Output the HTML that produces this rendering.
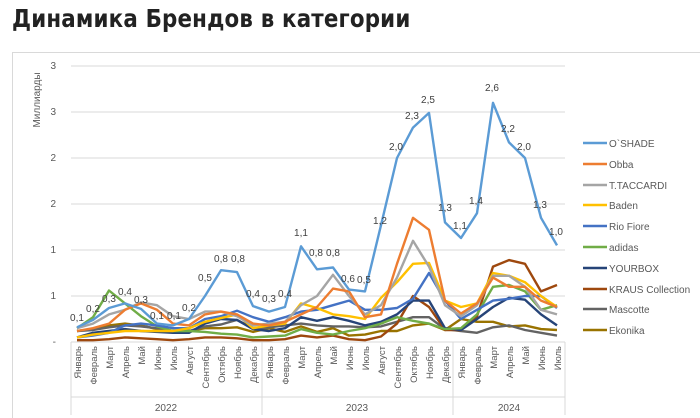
<!DOCTYPE html>
<html><head><meta charset="utf-8"><style>
body{margin:0;background:#fff;width:700px;height:418px;overflow:hidden;font-family:"Liberation Sans","DejaVu Sans",sans-serif}
h1{position:absolute;left:12px;top:4px;margin:0;font-size:25px;font-weight:bold;color:#222;letter-spacing:0.2px;font-family:"DejaVu Sans","Liberation Sans",sans-serif;transform:scaleX(0.855);transform-origin:left;white-space:nowrap}
svg{position:absolute;left:0;top:0}
</style></head><body>
<h1>Динамика Брендов в категории</h1>
<svg width="700" height="418" viewBox="0 0 700 418" font-family="Liberation Sans, DejaVu Sans, sans-serif">
<rect x="12.5" y="52.5" width="700" height="380" fill="#fff" stroke="#d9d9d9"/>
<g stroke="#d9d9d9" stroke-width="1">
<line x1="71" x2="565" y1="66" y2="66"/><line x1="71" x2="565" y1="112" y2="112"/>
<line x1="71" x2="565" y1="158" y2="158"/><line x1="71" x2="565" y1="204" y2="204"/>
<line x1="71" x2="565" y1="250" y2="250"/><line x1="71" x2="565" y1="296" y2="296"/>
<line x1="71" x2="565" y1="342" y2="342"/>
<line x1="71" x2="71" y1="342" y2="415"/><line x1="262" x2="262" y1="342" y2="415"/>
<line x1="453" x2="453" y1="342" y2="415"/><line x1="565" x2="565" y1="342" y2="415"/>
<line x1="71" x2="565" y1="397" y2="397"/>
</g>
<g fill="#595959" font-size="10" text-anchor="end">
<text x="56" y="69">3</text><text x="56" y="115">3</text><text x="56" y="161">2</text><text x="56" y="207">2</text><text x="56" y="253">1</text><text x="56" y="299">1</text><text x="56" y="345">-</text>
</g>
<text transform="translate(40,100) rotate(-90)" text-anchor="middle" fill="#595959" font-size="10">Миллиарды</text>
<g id="lines" fill="none" stroke-width="2.4" stroke-linejoin="round"></g>
<g fill="#404040" font-size="10" text-anchor="middle">
<text x="77" y="321">0,1</text><text x="93" y="312">0,2</text><text x="109" y="302">0,3</text><text x="125" y="295">0,4</text><text x="141" y="303">0,3</text><text x="157" y="319">0,1</text><text x="174" y="319">0,1</text><text x="189" y="311">0,2</text><text x="205" y="281">0,5</text><text x="221" y="262">0,8</text><text x="238" y="262">0,8</text><text x="253" y="297">0,4</text><text x="269" y="302">0,3</text><text x="285" y="297">0,4</text><text x="301" y="236">1,1</text><text x="316" y="256">0,8</text><text x="333" y="256">0,8</text><text x="348" y="282">0,6</text><text x="364" y="283">0,5</text><text x="380" y="224">1,2</text><text x="396" y="150">2,0</text><text x="412" y="119">2,3</text><text x="428" y="103">2,5</text><text x="445" y="211">1,3</text><text x="460" y="229">1,1</text><text x="476" y="204">1,4</text><text x="492" y="91">2,6</text><text x="508" y="132">2,2</text><text x="524" y="150">2,0</text><text x="540" y="208">1,3</text><text x="556" y="235">1,0</text>
</g>
<g fill="#595959" font-size="9.5" text-anchor="end">
<text transform="translate(81,346) rotate(-90)">Январь</text><text transform="translate(97,346) rotate(-90)">Февраль</text><text transform="translate(113,346) rotate(-90)">Март</text><text transform="translate(129,346) rotate(-90)">Апрель</text><text transform="translate(145,346) rotate(-90)">Май</text><text transform="translate(161,346) rotate(-90)">Июнь</text><text transform="translate(177,346) rotate(-90)">Июль</text><text transform="translate(193,346) rotate(-90)">Август</text><text transform="translate(209,346) rotate(-90)">Сентябрь</text><text transform="translate(225,346) rotate(-90)">Октябрь</text><text transform="translate(241,346) rotate(-90)">Ноябрь</text><text transform="translate(257,346) rotate(-90)">Декабрь</text>
<text transform="translate(273,346) rotate(-90)">Январь</text><text transform="translate(289,346) rotate(-90)">Февраль</text><text transform="translate(305,346) rotate(-90)">Март</text><text transform="translate(321,346) rotate(-90)">Апрель</text><text transform="translate(337,346) rotate(-90)">Май</text><text transform="translate(353,346) rotate(-90)">Июнь</text><text transform="translate(369,346) rotate(-90)">Июль</text><text transform="translate(385,346) rotate(-90)">Август</text><text transform="translate(401,346) rotate(-90)">Сентябрь</text><text transform="translate(417,346) rotate(-90)">Октябрь</text><text transform="translate(433,346) rotate(-90)">Ноябрь</text><text transform="translate(449,346) rotate(-90)">Декабрь</text>
<text transform="translate(465,346) rotate(-90)">Январь</text><text transform="translate(481,346) rotate(-90)">Февраль</text><text transform="translate(497,346) rotate(-90)">Март</text><text transform="translate(513,346) rotate(-90)">Апрель</text><text transform="translate(529,346) rotate(-90)">Май</text><text transform="translate(545,346) rotate(-90)">Июнь</text><text transform="translate(561,346) rotate(-90)">Июль</text>
</g>
<g fill="#595959" font-size="10" text-anchor="middle">
<text x="166" y="411">2022</text><text x="357" y="411">2023</text><text x="509" y="411">2024</text>
</g>
<g stroke-width="2.5">
<line x1="583" x2="607" y1="143" y2="143" stroke="#5B9BD5"/><line x1="583" x2="607" y1="164" y2="164" stroke="#ED7D31"/><line x1="583" x2="607" y1="185" y2="185" stroke="#A5A5A5"/><line x1="583" x2="607" y1="205" y2="205" stroke="#FFC000"/><line x1="583" x2="607" y1="226" y2="226" stroke="#4472C4"/><line x1="583" x2="607" y1="247" y2="247" stroke="#70AD47"/><line x1="583" x2="607" y1="268" y2="268" stroke="#264478"/><line x1="583" x2="607" y1="289" y2="289" stroke="#9E480E"/><line x1="583" x2="607" y1="309" y2="309" stroke="#636363"/><line x1="583" x2="607" y1="330" y2="330" stroke="#997300"/>
</g>
<g fill="#595959" font-size="10">
<text x="609" y="147">O`SHADE</text><text x="609" y="168">Obba</text><text x="609" y="189">T.TACCARDI</text><text x="609" y="209">Baden</text><text x="609" y="230">Rio Fiore</text><text x="609" y="251">adidas</text><text x="609" y="272">YOURBOX</text><text x="609" y="293">KRAUS Collection</text><text x="609" y="313">Mascotte</text><text x="609" y="334">Ekonika</text>
</g>
</svg>
<script>
var S=[
["#997300",[.12,.14,.18,.2,.18,.14,.11,.12,.15,.15,.16,.11,.15,.11,.17,.11,.15,.07,.08,.12,.12,.18,.2,.13,.25,.22,.22,.17,.18,.14,.13]],
["#636363",[.12,.13,.16,.18,.17,.15,.12,.12,.17,.19,.24,.15,.16,.18,.2,.18,.17,.17,.16,.17,.22,.27,.27,.14,.12,.1,.16,.18,.13,.1,.07]],
["#9E480E",[.02,.02,.03,.05,.04,.03,.02,.03,.05,.05,.04,.02,.02,.03,.07,.05,.07,.03,.02,.06,.2,.5,.38,.13,.13,.28,.82,.89,.85,.55,.62]],
["#264478",[.05,.1,.12,.14,.12,.11,.1,.1,.2,.25,.24,.14,.12,.15,.27,.23,.27,.23,.18,.22,.3,.45,.45,.15,.13,.25,.38,.48,.46,.3,.18]],
["#70AD47",[.15,.27,.56,.42,.28,.17,.12,.12,.11,.09,.08,.05,.06,.07,.14,.1,.08,.12,.15,.2,.27,.23,.2,.14,.15,.3,.6,.62,.55,.35,.4]],
["#4472C4",[.05,.07,.1,.18,.2,.18,.15,.15,.25,.28,.34,.27,.22,.27,.33,.35,.4,.45,.35,.35,.37,.47,.75,.45,.25,.35,.45,.47,.5,.5,.37]],
["#FFC000",[.05,.08,.1,.12,.12,.12,.12,.15,.22,.26,.3,.15,.18,.2,.42,.37,.3,.28,.25,.48,.65,.85,.86,.45,.38,.42,.75,.72,.65,.5,.38]],
["#A5A5A5",[.15,.2,.3,.35,.43,.4,.28,.25,.33,.33,.28,.18,.2,.22,.4,.5,.73,.5,.3,.4,.7,1.1,.82,.4,.28,.4,.72,.72,.6,.35,.3]],
["#ED7D31",[.12,.15,.2,.35,.42,.35,.2,.18,.3,.33,.3,.2,.18,.22,.3,.38,.58,.55,.27,.3,.85,1.35,1.22,.45,.31,.42,.7,.6,.6,.45,.38]],
["#5B9BD5",[.16,.24,.37,.42,.36,.2,.18,.25,.5,.78,.76,.39,.33,.38,1.04,.79,.81,.57,.55,1.27,2.0,2.33,2.49,1.3,1.13,1.4,2.6,2.17,2.0,1.35,1.05]]];
var g=document.getElementById('lines'),h='';
S.forEach(function(s){var p=s[1].map(function(v,i){return (77+16*i)+','+(342-92*v).toFixed(1)}).join(' ');h+='<polyline stroke="'+s[0]+'" points="'+p+'"/>';});
g.innerHTML=h;
</script>
</body></html>
